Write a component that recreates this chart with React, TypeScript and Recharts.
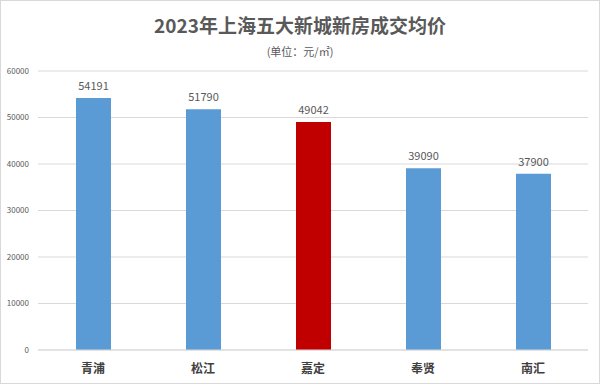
import React from "react";
import { BarChart, Bar, XAxis, YAxis, CartesianGrid, Cell, LabelList } from "recharts";

const districts = ["青浦", "松江", "嘉定", "奉贤", "南汇"];
const avgPrice = [54191, 51790, 49042, 39090, 37900];
const barColors = ["#5B9BD5", "#5B9BD5", "#C00000", "#5B9BD5", "#5B9BD5"];
const yTicks = [0, 10000, 20000, 30000, 40000, 50000, 60000];

const data = districts.map((name, i) => ({ name, price: avgPrice[i] }));

const font = '"Noto Sans CJK SC", "Noto Sans", sans-serif';

export default function App() {
  return (
    <div
      style={{
        position: "fixed",
        top: 0,
        left: 0,
        width: 600,
        height: 384,
        background: "#fff",
        fontFamily: font,
      }}
    >
      <div
        style={{
          position: "absolute",
          inset: 0,
          border: "1px solid #d9d9d9",
          boxSizing: "border-box",
          pointerEvents: "none",
        }}
      />
      <div
        style={{
          position: "absolute",
          top: 11,
          width: "100%",
          textAlign: "center",
          fontSize: 19,
          fontWeight: 700,
          color: "#595959",
        }}
      >
        2023年上海五大新城新房成交均价
      </div>
      <div
        style={{
          position: "absolute",
          top: 43,
          width: "100%",
          textAlign: "center",
          fontSize: 11,
          color: "#595959",
        }}
      >
        (单位：元/㎡)
      </div>
      <BarChart
        width={600}
        height={384}
        data={data}
        margin={{ top: 71, right: 12, bottom: 0, left: 8 }}
        barSize={35}
      >
        <CartesianGrid vertical={false} stroke="#d9d9d9" />
        <XAxis
          dataKey="name"
          height={34}
          axisLine={{ stroke: "#d9d9d9" }}
          tickLine={false}
          tick={{ fill: "#404040", fontSize: 12, fontWeight: 700, fontFamily: font }}
          tickMargin={8}
        />
        <YAxis
          width={30}
          domain={[0, 60000]}
          ticks={yTicks}
          axisLine={false}
          tickLine={false}
          tick={{ fill: "#595959", fontSize: 8, fontFamily: font }}
          tickMargin={3}
        />
        <Bar dataKey="price" isAnimationActive={false}>
          {data.map((d, i) => (
            <Cell key={d.name} fill={barColors[i]} />
          ))}
          <LabelList
            dataKey="price"
            position="top"
            offset={8}
            fill="#595959"
            fontSize={11}
            fontFamily={font}
          />
        </Bar>
      </BarChart>
    </div>
  );
}
